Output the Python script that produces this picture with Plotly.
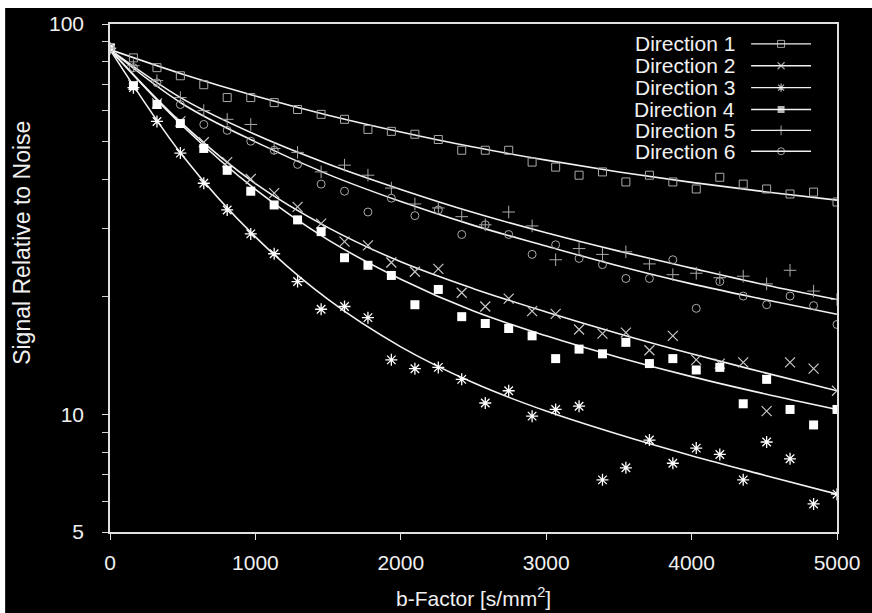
import plotly.graph_objects as go

# b-values of the measurements [s/mm^2]
B_VALUES = [0, 161, 323, 484, 645, 806, 968, 1129, 1290, 1452, 1613, 1774, 1935, 2097,
            2258, 2419, 2581, 2742, 2903, 3065, 3226, 3387, 3548, 3710, 3871, 4032,
            4194, 4355, 4516, 4677, 4839, 5000]

# measured signal relative to noise for each diffusion direction
DIR1 = [86.8, 81.9, 77.3, 73.7, 69.9, 64.8, 64.8, 62.9, 60.4, 58.7, 57.0, 53.7, 53.1, 52.2,
        50.6, 47.5, 47.5, 47.5, 44.3, 43.0, 41.0, 41.8, 39.4, 41.0, 39.4, 37.8, 40.5, 38.9,
        37.8, 36.7, 37.1, 35.0]
DIR2 = [86.5, 69.9, 62.6, 56.3, 49.8, 44.3, 40.1, 36.9, 34.0, 30.8, 27.7, 27.1, 24.5, 23.2,
        23.6, 20.5, 18.9, 19.8, 18.4, 18.1, 16.5, 16.1, 16.2, 14.6, 15.9, 13.8, 13.5, 13.6,
        10.2, 13.6, 13.1, 11.5]
DIR3 = [86.5, 68.7, 56.3, 46.7, 39.1, 33.4, 29.0, 25.8, 21.9, 18.6, 18.9, 17.7, 13.8, 13.1,
        13.2, 12.3, 10.7, 11.5, 9.9, 10.3, 10.5, 6.8, 7.3, 8.6, 7.5, 8.2, 7.9, 6.8,
        8.5, 7.7, 5.9, 6.25]
DIR4 = [86.8, 69.5, 62.2, 55.6, 48.0, 42.2, 37.3, 34.4, 31.5, 29.4, 25.2, 24.1, 22.7, 19.1,
        20.9, 17.8, 17.1, 16.6, 15.9, 13.9, 14.7, 14.3, 15.3, 13.5, 13.9, 13.0, 13.2, 10.65,
        12.3, 10.3, 9.4, 10.3]
DIR5 = [86.8, 78.2, 71.6, 64.8, 60.0, 57.0, 55.3, 48.0, 46.9, 41.8, 43.5, 41.0, 38.0, 34.6,
        33.8, 32.1, 30.6, 33.0, 30.4, 24.9, 26.6, 25.7, 26.1, 24.3, 22.8, 23.0, 22.4, 22.6,
        21.6, 23.4, 20.7, 19.7]
DIR6 = [86.8, 77.3, 70.7, 62.2, 55.3, 53.4, 50.1, 47.5, 43.7, 38.9, 37.3, 33.0, 35.8, 32.3,
        33.4, 28.9, 30.6, 28.9, 25.7, 27.2, 25.1, 24.2, 22.3, 22.3, 24.9, 18.7, 21.9, 20.1,
        19.1, 20.1, 19.0, 17.0]

# fitted decay curves, sampled every 500 s/mm^2
B_FIT = [0, 500, 1000, 1500, 2000, 2500, 3000, 3500, 4000, 4500, 5000]
FIT1 = [86.0, 74.4, 65.4, 58.4, 52.9, 48.4, 44.8, 41.8, 39.3, 37.2, 35.4]
FIT2 = [86.0, 55.4, 39.0, 30.1, 24.6, 21.0, 18.3, 16.1, 14.3, 12.8, 11.5]
FIT3 = [86.0, 46.0, 28.5, 19.7, 14.9, 12.05, 10.2, 8.88, 7.84, 6.99, 6.25]
FIT4 = [86.0, 54.8, 37.7, 28.0, 22.2, 18.4, 15.9, 14.0, 12.5, 11.3, 10.3]
FIT5 = [86.0, 64.3, 52.1, 43.8, 37.7, 32.9, 29.2, 26.2, 23.7, 21.5, 19.7]
FIT6 = [86.0, 62.4, 49.9, 41.2, 35.1, 30.5, 27.0, 24.0, 21.6, 19.7, 18.05]

NAMES = ["Direction 1", "Direction 2", "Direction 3", "Direction 4", "Direction 5", "Direction 6"]
SERIES = [DIR1, DIR2, DIR3, DIR4, DIR5, DIR6]
FITS = [FIT1, FIT2, FIT3, FIT4, FIT5, FIT6]

Y_TICKS = [5, 10, 100]
Y_MINOR = [6, 7, 8, 9, 20, 30, 40, 50, 60, 70, 80, 90]
X_TICKS = [0, 1000, 2000, 3000, 4000, 5000]

FONT = "Liberation Sans, Arial, Helvetica, sans-serif"
FAINT = "#a9a9a9"
STYLES = [
    dict(symbol="square-open", size=8, color=FAINT, line=dict(width=1, color=FAINT)),
    dict(symbol="x-thin-open", size=10, color="#c8c8c8", line=dict(width=1.2, color="#c8c8c8")),
    dict(symbol="asterisk-open", size=10, color="#ffffff", line=dict(width=1.3, color="#ffffff")),
    dict(symbol="square", size=9, color="#ffffff", line=dict(width=0)),
    dict(symbol="cross-thin-open", size=9, color=FAINT, line=dict(width=1, color=FAINT)),
    dict(symbol="circle-open", size=8, color=FAINT, line=dict(width=1, color=FAINT)),
]
LEG_MARK = [
    dict(symbol="square-open", size=7, color="#e0e0e0", line=dict(width=1, color="#e0e0e0")),
    dict(symbol="x-thin-open", size=7, color="#e0e0e0", line=dict(width=1.2, color="#e0e0e0")),
    dict(symbol="asterisk-open", size=7, color="#ffffff", line=dict(width=1.2, color="#ffffff")),
    dict(symbol="square", size=7, color="#ffffff", line=dict(width=0)),
    dict(symbol="cross-thin-open", size=7, color="#e0e0e0", line=dict(width=1, color="#e0e0e0")),
    dict(symbol="circle-open", size=7, color="#e0e0e0", line=dict(width=1, color="#e0e0e0")),
]

fig = go.Figure()

for name, fit in zip(NAMES, FITS):
    fig.add_trace(go.Scatter(x=B_FIT, y=fit, mode="lines", name=name + " fit",
                             line=dict(color="#f2f2f2", width=1.6, shape="spline", smoothing=1.0),
                             showlegend=False, hoverinfo="skip"))

for name, vals, st in zip(NAMES, SERIES, STYLES):
    fig.add_trace(go.Scatter(x=B_VALUES, y=vals, mode="markers", name=name,
                             marker=st, showlegend=False))

# key in the upper right: label, then a line sample with the series marker
LEG_ROWS_PX = [41, 63, 85, 107, 128, 149]
ann = []
for name, row, mk in zip(NAMES, LEG_ROWS_PX, LEG_MARK):
    yp = (532 - row) / 511
    ann.append(dict(x=(738 - 110) / 728, y=yp, xref="paper", yref="paper", text=name,
                    showarrow=False, xanchor="right", yanchor="middle",
                    font=dict(family=FONT, size=21, color="#f0f0f0")))
    fig.add_trace(go.Scatter(x=[(752 - 110) / 728, (782 - 110) / 728, (812 - 110) / 728],
                             y=[yp, yp, yp], xaxis="x2", yaxis="y2", mode="lines+markers",
                             line=dict(color="#f0f0f0", width=1.4),
                             marker=dict(symbol=mk["symbol"], size=[0, mk["size"], 0],
                                         color=mk["color"], line=mk["line"]),
                             showlegend=False, hoverinfo="skip"))

ann.append(dict(x=(22 - 110) / 728, y=(532 - 241) / 511, xref="paper", yref="paper",
                text="Signal Relative to Noise", textangle=-90, showarrow=False,
                xanchor="center", yanchor="middle",
                font=dict(family=FONT, size=23, color="#f0f0f0")))
ann.append(dict(x=0.5, y=(532 - 597) / 511, xref="paper", yref="paper",
                text="b-Factor [s/mm<sup>2</sup>]", showarrow=False,
                xanchor="center", yanchor="middle",
                font=dict(family=FONT, size=21, color="#f0f0f0")))

# thin white strip along the top and left edges of the picture
shapes = [
    dict(type="rect", xref="paper", yref="paper", x0=-0.3, x1=1.2, y0=(532 - 5) / 511, y1=1.2,
         fillcolor="white", line=dict(width=0), layer="below"),
    dict(type="rect", xref="paper", yref="paper", x0=-0.3, x1=(5 - 110) / 728, y0=-0.3, y1=1.2,
         fillcolor="white", line=dict(width=0), layer="below"),
]

fig.update_layout(
    width=872, height=613,
    margin=dict(l=110, r=34, t=21, b=81),
    paper_bgcolor="black", plot_bgcolor="black",
    font=dict(family=FONT, size=21, color="#f0f0f0"),
    annotations=ann, shapes=shapes, showlegend=False,
    xaxis=dict(range=[0, 5000], tickvals=X_TICKS, ticks="outside", ticklen=6, tickwidth=1.2,
               tickcolor="#e0e0e0", showline=True, linecolor="#e0e0e0", linewidth=1.5,
               mirror=True, showgrid=False, zeroline=False, ticklabelstandoff=5,
               tickfont=dict(family=FONT, size=21, color="#f0f0f0")),
    yaxis=dict(type="log", range=[0.69897, 2.0], tickvals=Y_TICKS, ticktext=["5", "10", "100"],
               ticks="outside", ticklen=6, tickwidth=1.2, tickcolor="#e0e0e0",
               showline=True, linecolor="#e0e0e0", linewidth=1.5, mirror=True,
               showgrid=False, zeroline=False, ticklabelstandoff=14,
               minor=dict(tickvals=Y_MINOR, ticks="outside", ticklen=6, tickwidth=1,
                          tickcolor="#d0d0d0", showgrid=False),
               tickfont=dict(family=FONT, size=21, color="#f0f0f0")),
    xaxis2=dict(range=[0, 1], overlaying="x", visible=False, fixedrange=True),
    yaxis2=dict(range=[0, 1], overlaying="y", visible=False, fixedrange=True),
)

fig.write_html("out.html")
